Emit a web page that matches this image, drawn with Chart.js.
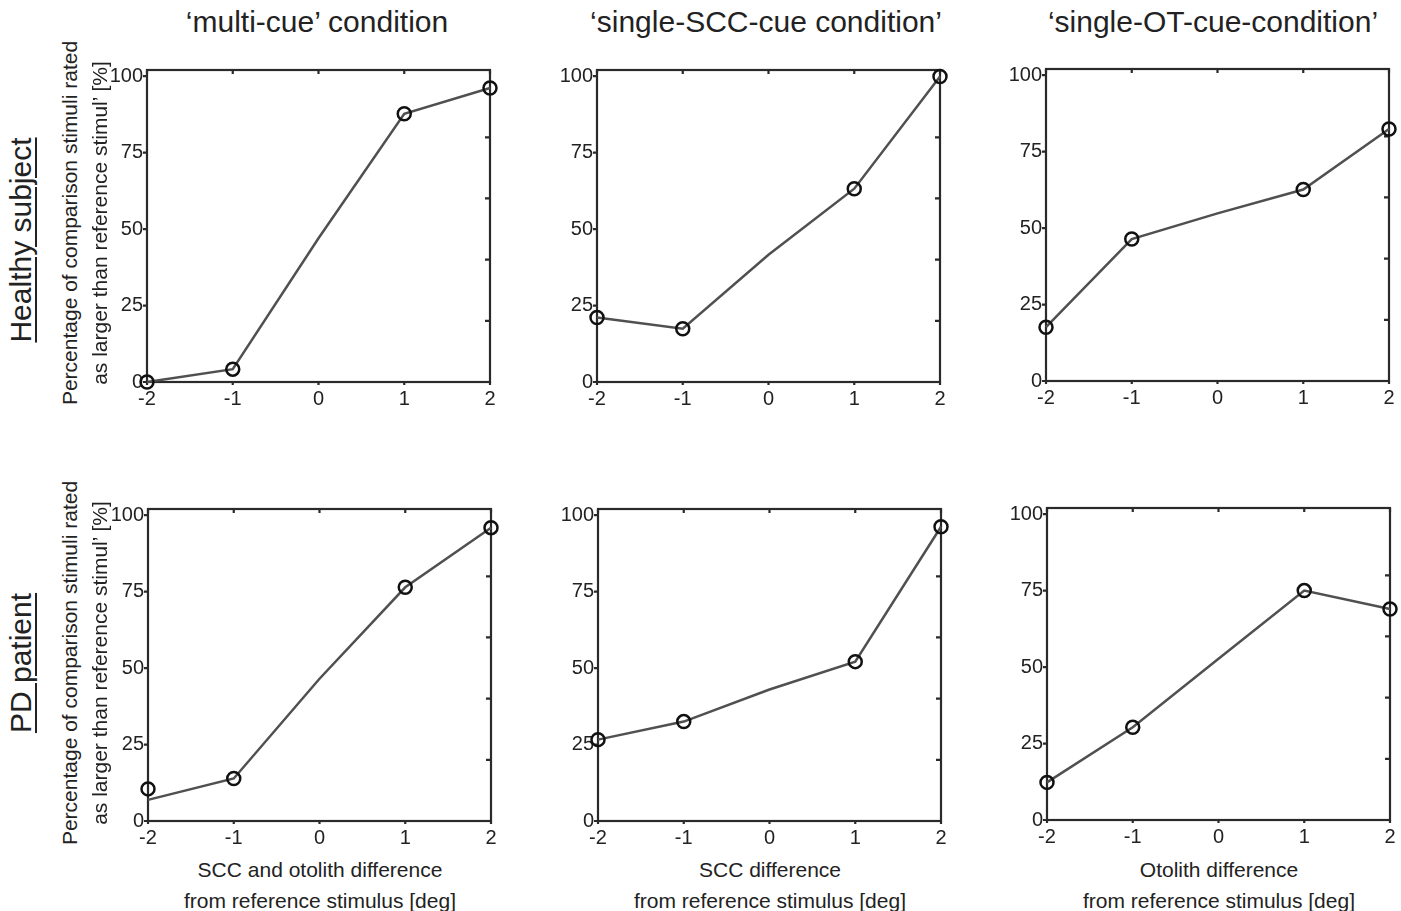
<!DOCTYPE html>
<html>
<head>
<meta charset="utf-8">
<script src="https://cdn.jsdelivr.net/npm/chart.js@4.4.0/dist/chart.umd.min.js"></script>
<style>
  body { margin: 0; background: #fff; font-family: "Liberation Sans", Arial, sans-serif; color: #222; }
  #fig { position: relative; width: 1401px; height: 911px; overflow: hidden; }
  canvas { position: absolute; }
  .txt { position: absolute; white-space: nowrap; transform: translate(-50%, -50%); }
  .rot { transform: translate(-50%, -50%) rotate(-90deg); }
  .title { font-size: 30px; }
  .row { font-size: 30px; text-decoration: underline; text-underline-offset: 4px; text-decoration-thickness: 1.5px; }
  .ylab, .xlab { font-size: 21px; }
</style>
</head>
<body>
<div id="fig">
  <canvas id="c0" width="418" height="358"></canvas>
  <canvas id="c1" width="418" height="358"></canvas>
  <canvas id="c2" width="418" height="358"></canvas>
  <canvas id="c3" width="418" height="358"></canvas>
  <canvas id="c4" width="418" height="358"></canvas>
  <canvas id="c5" width="418" height="358"></canvas>

  <div class="txt title" style="left:317px;top:22px">‘multi-cue’ condition</div>
  <div class="txt title" style="left:766px;top:22px">‘single-SCC-cue condition’</div>
  <div class="txt title" style="left:1213px;top:22px">‘single-OT-cue-condition’</div>

  <div class="txt rot row" style="left:21px;top:240px">Healthy subject</div>
  <div class="txt rot row" style="left:21px;top:663px">PD patient</div>

  <div class="txt rot ylab" style="left:70px;top:223px">Percentage of comparison stimuli rated</div>
  <div class="txt rot ylab" style="left:100px;top:223px">as larger than reference stimul’ [%]</div>
  <div class="txt rot ylab" style="left:70px;top:663px">Percentage of comparison stimuli rated</div>
  <div class="txt rot ylab" style="left:100px;top:663px">as larger than reference stimul’ [%]</div>

  <div class="txt xlab" style="left:320px;top:870px">SCC and otolith difference</div>
  <div class="txt xlab" style="left:320px;top:901px">from reference stimulus [deg]</div>
  <div class="txt xlab" style="left:770px;top:870px">SCC difference</div>
  <div class="txt xlab" style="left:770px;top:901px">from reference stimulus [deg]</div>
  <div class="txt xlab" style="left:1219px;top:870px">Otolith difference</div>
  <div class="txt xlab" style="left:1219px;top:901px">from reference stimulus [deg]</div>
</div>
<script>
// stimulus differences [deg]
const xValues = [-2, -1, 0, 1, 2];
const yTicks = [0, 25, 50, 75, 100];
const rightTicks = [20, 40, 60, 80];

// percentage rated larger (markers, no stimulus at 0)
const healthyMulti = [0, 4.2, null, 87.7, 96.1];
const healthySCC = [21.1, 17.4, null, 63.2, 99.9];
const healthyOT = [17.6, 46.4, null, 62.6, 82.4];
const patientMulti = [10.5, 13.9, null, 76.4, 95.9];
const patientSCC = [26.6, 32.5, null, 52.1, 96.2];
const patientOT = [12.3, 30.3, null, 75.0, 69.0];

// connecting lines as drawn in the figure
const healthyMultiLine = [0, 4.2, 47, 87.7, 96.1];
const healthySCCLine = [21.1, 17.4, 41.6, 63.2, 99.9];
const healthyOTLine = [17.6, 46.4, 54.8, 62.6, 82.4];
const patientMultiLine = [6.9, 13.9, 46.5, 76.4, 95.9];
const patientSCCLine = [26.6, 32.5, 43, 52.1, 96.2];
const patientOTLine = [12.3, 30.3, 52.7, 75.0, 69.0];

const panels = [
    { id: 'c0', left: 147, top: 64, marks: healthyMulti, line: healthyMultiLine },
    { id: 'c1', left: 597, top: 64, marks: healthySCC, line: healthySCCLine },
    { id: 'c2', left: 1046, top: 63, marks: healthyOT, line: healthyOTLine },
    { id: 'c3', left: 148, top: 503, marks: patientMulti, line: patientMultiLine },
    { id: 'c4', left: 598, top: 503, marks: patientSCC, line: patientSCCLine },
    { id: 'c5', left: 1047, top: 502, marks: patientOT, line: patientOTLine },
];

const AXIS_W = 60, AXIS_H = 30, PAD_TOP = 10;

/* box with matlab-ish ticks */
const framePlugin = {
    id: 'frame',
    beforeDatasetsDraw(chart) {
        const ctx = chart.ctx;
        const a = chart.chartArea;
        const xs = chart.scales.x, ys = chart.scales.y;
        ctx.save();
        ctx.strokeStyle = '#2a2a2a';
        ctx.lineWidth = 2.2;
        ctx.strokeRect(a.left, a.top, a.right - a.left, a.bottom - a.top);
        ctx.beginPath();
        yTicks.forEach(v => {
            const y = ys.getPixelForValue(v);
            ctx.moveTo(a.left - 4, y); ctx.lineTo(a.left, y);
        });
        rightTicks.forEach(v => {
            const y = ys.getPixelForValue(v);
            ctx.moveTo(a.right - 5, y); ctx.lineTo(a.right, y);
        });
        xValues.forEach(v => {
            const x = xs.getPixelForValue(v);
            ctx.moveTo(x, a.top); ctx.lineTo(x, a.top + 4);
            ctx.moveTo(x, a.bottom); ctx.lineTo(x, a.bottom + 3);
        });
        ctx.stroke();
        ctx.restore();
    }
};

function toPoints(arr) {
    return xValues.map((x, i) => ({ x: x, y: arr[i] })).filter(p => p.y !== null);
}

function createPanel(p) {
    const el = document.getElementById(p.id);
    el.style.left = (p.left - AXIS_W) + 'px';
    el.style.top = (p.top - PAD_TOP) + 'px';

    return new Chart(el, {
        type: 'scatter',
        data: {
            datasets: [{
                data: toPoints(p.marks),
                showLine: false,
                pointStyle: 'circle',
                pointRadius: 6.5,
                pointHoverRadius: 6.5,
                pointBorderWidth: 2.5,
                pointBorderColor: '#111',
                pointBackgroundColor: 'rgba(0,0,0,0)',
                clip: false
            }, {
                data: toPoints(p.line),
                showLine: true,
                borderColor: '#505050',
                borderWidth: 2.5,
                pointRadius: 0,
                pointHoverRadius: 0,
                clip: false
            }]
        },
        options: {
            responsive: false,
            animation: false,
            devicePixelRatio: 1,
            layout: { padding: { top: PAD_TOP, right: 15, left: 0, bottom: 0 } },
            plugins: { legend: { display: false }, tooltip: { enabled: false } },
            scales: {
                x: {
                    type: 'linear',
                    min: -2,
                    max: 2,
                    afterBuildTicks: s => { s.ticks = xValues.map(v => ({ value: v })); },
                    afterFit: s => { s.height = AXIS_H; },
                    grid: { display: false, drawTicks: false },
                    border: { display: false },
                    ticks: { color: '#222', padding: 5, font: { family: 'Liberation Sans', size: 20 } }
                },
                y: {
                    min: 0,
                    max: 102,
                    afterBuildTicks: s => { s.ticks = yTicks.map(v => ({ value: v })); },
                    afterFit: s => { s.width = AXIS_W; },
                    grid: { display: false, drawTicks: false },
                    border: { display: false },
                    ticks: { color: '#222', padding: 4, font: { family: 'Liberation Sans', size: 20 } }
                }
            }
        },
        plugins: [framePlugin]
    });
}

panels.forEach(p => createPanel(p));
</script>
</body>
</html>
